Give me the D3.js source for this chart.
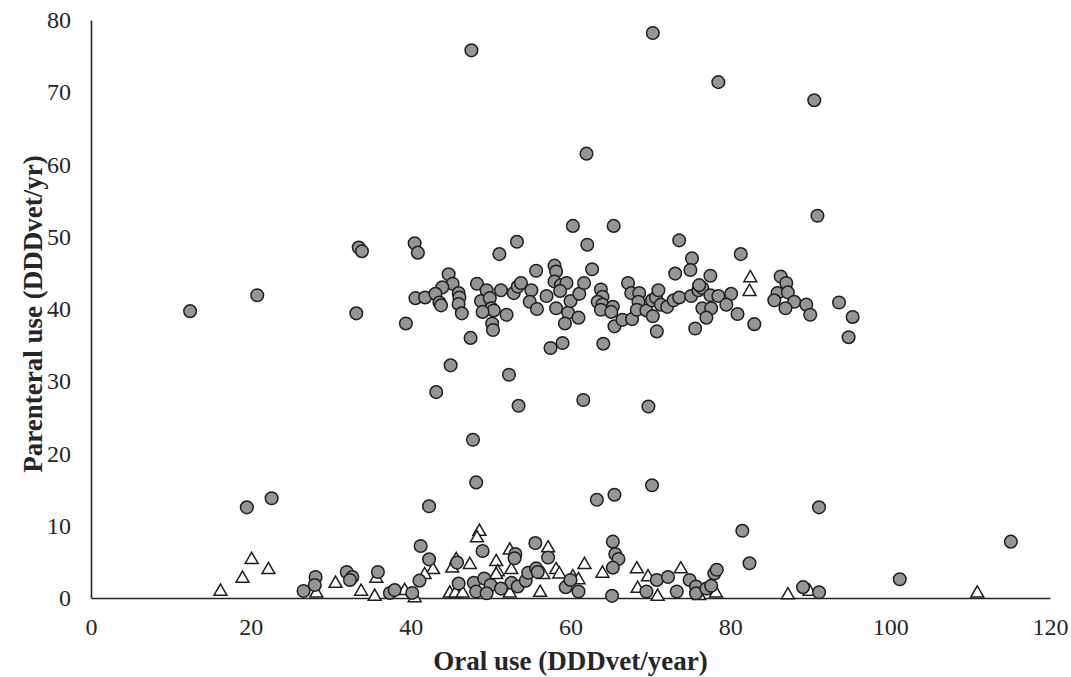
<!DOCTYPE html>
<html>
<head>
<script src="https://d3js.org/d3.v7.min.js"></script>
<style>
  body { margin: 0; background: #fff; }
  text { font-family: "Liberation Serif", "Times New Roman", serif; fill: #262626; }
</style>
</head>
<body>
<svg width="1071" height="677"></svg>
<script>
// DATA ==========================================================
// circles: [oral, parenteral]
const circleSeries = [
  [12.4,39.7],[20.8,41.9],[33.2,39.4],[33.5,48.5],[33.9,48.0],[39.4,38.0],[40.5,49.1],[40.9,47.8],
  [44.75,44.8],[45.25,43.5],[43.96,43.0],[40.6,41.5],[41.8,41.6],[43.1,42.1],[43.6,40.9],[43.8,40.5],
  [46.0,42.2],[46.1,41.6],[46.0,40.7],[46.4,39.4],[47.5,36.0],[45.0,32.2],[43.2,28.5],
  [53.3,49.3],[62.1,48.9],[73.6,49.5],[51.1,47.6],[81.3,47.6],[75.2,47.0],[75.0,45.4],[73.1,44.9],[77.5,44.6],
  [48.3,43.5],[49.5,42.6],[48.8,41.1],[49.9,41.5],[50.1,40.1],[50.4,39.8],[49.0,39.6],[50.2,38.0],[50.3,37.1],
  [52.0,39.2],[51.3,42.6],[52.9,42.2],[53.4,43.1],[53.8,43.6],[55.1,42.6],[54.9,41.0],[55.8,40.0],[55.7,45.3],
  [57.0,41.8],[58.0,46.0],[58.2,45.2],[58.0,43.8],[58.8,43.3],[59.5,43.6],[58.7,42.5],[58.2,40.1],[59.7,39.5],
  [59.3,38.0],[60.0,41.1],[61.1,42.1],[61.7,43.6],[62.7,45.5],[61.0,38.8],[59.0,35.3],[57.5,34.6],[63.8,42.7],
  [64.0,41.7],[63.4,41.0],[64.0,40.6],[63.8,39.9],[65.3,40.3],[65.1,39.6],[65.5,37.6],[64.1,35.2],[66.5,38.5],
  [67.7,38.6],[67.2,43.6],[67.6,42.2],[68.6,42.2],[68.5,41.0],[68.3,39.9],[69.5,39.8],[70.2,41.2],[70.7,41.6],
  [71.0,42.6],[71.3,40.6],[72.1,40.3],[70.3,39.0],[70.8,36.9],[72.9,41.2],[73.6,41.6],[75.1,41.8],[76.0,42.6],
  [76.5,42.9],[76.1,43.3],[77.5,41.9],[78.5,41.8],[80.1,42.1],[76.5,40.1],[77.6,40.1],[77.0,38.8],[79.5,40.6],
  [80.9,39.3],[75.6,37.3],[83.0,37.9],[52.3,30.9],[53.5,26.6],[61.6,27.4],[69.75,26.5],[47.8,21.9],
  [86.3,44.5],[87.0,43.6],[85.9,42.2],[87.2,42.3],[85.5,41.2],[88.0,41.0],[86.9,40.1],[89.5,40.6],[90.0,39.2],
  [93.6,40.9],[95.3,38.9],[94.8,36.1],
  [78.5,71.4],[90.5,68.9],[90.9,52.9],[47.6,75.8],[70.3,78.2],[62.0,61.5],[60.3,51.5],[65.4,51.5],
  [19.5,12.55],[22.6,13.8],[28.1,2.9],[28.0,1.8],[26.6,0.97],[32.0,3.6],[32.7,2.9],[32.4,2.5],[35.9,3.6],
  [37.4,0.7],[38.0,1.1],[48.2,16.0],[42.3,12.7],[63.3,13.6],[65.5,14.3],[41.25,7.2],[42.3,5.35],[41.1,2.4],
  [40.2,0.7],[45.8,4.9],[46.0,2.0],[49.0,6.5],[47.9,2.1],[48.2,0.9],[49.2,2.7],[50.0,1.8],[49.5,0.65],
  [53.1,6.1],[53.0,5.5],[52.6,2.1],[51.3,1.3],[53.4,1.6],[54.4,2.4],[54.7,3.5],[55.6,7.6],[55.7,4.1],[55.9,3.6],
  [57.2,5.6],[59.4,1.5],[60.0,2.5],[61.0,0.9],[65.3,7.8],[65.6,6.1],[66.0,5.4],[65.3,4.2],[65.2,0.3],
  [70.2,15.6],[81.5,9.3],[91.1,12.55],[82.4,4.8],[89.1,1.5],[91.1,0.8],[69.5,0.9],[70.8,2.5],[72.2,2.9],
  [73.3,0.9],[74.9,2.5],[75.7,1.6],[75.7,0.65],[77.0,1.3],[77.6,1.7],[78.0,3.4],[78.3,3.9],[101.2,2.6],[115.1,7.8]
];

// triangles: [oral, parenteral]
const triangleSeries = [
  [20.1,5.3],[18.96,2.7],[22.2,3.9],[16.2,0.9],[30.6,2.0],[33.8,0.9],[35.5,0.2],[35.7,2.7],[28.2,0.65],
  [48.6,9.2],[48.3,8.3],[45.7,5.3],[45.2,4.1],[47.4,4.6],[42.8,3.9],[41.75,3.2],[44.9,0.65],[45.6,0.65],
  [46.5,0.65],[40.5,0.0],[39.25,1.0],[50.7,5.0],[50.9,3.6],[50.7,3.2],[52.4,6.6],[52.6,3.9],[52.4,0.65],
  [57.2,6.9],[56.6,3.2],[56.2,0.75],[58.2,3.9],[58.6,3.3],[60.3,2.9],[61.0,2.5],[61.75,4.6],[64.0,3.4],
  [68.3,4.0],[69.7,2.9],[68.4,1.3],[70.9,0.2],[73.8,4.0],[76.1,0.3],[78.2,0.65],[89.9,0.9],[87.2,0.4],
  [110.9,0.65],[82.5,44.3],[82.4,42.4]
];

const xTicks = [0, 20, 40, 60, 80, 100, 120];
const yTicks = [0, 10, 20, 30, 40, 50, 60, 70, 80];
const xTitle = "Oral use (DDDvet/year)";
const yTitle = "Parenteral use (DDDvet/yr)";

// SCALES ========================================================
const svg = d3.select("svg");
const x = d3.scaleLinear().domain([0, 120]).range([91, 1050]);
const y = d3.scaleLinear().domain([0, 80]).range([598, 20]);

// AXES ==========================================================
const xAxis = svg.append("g")
  .attr("transform", `translate(0,${y(0)})`)
  .call(d3.axisBottom(x).tickValues(xTicks).tickSize(0).tickPadding(20));
const yAxis = svg.append("g")
  .attr("transform", `translate(${x(0)},0)`)
  .call(d3.axisLeft(y).tickValues(yTicks).tickSize(0).tickPadding(20));

[xAxis, yAxis].forEach(g => {
  g.select(".domain").attr("stroke", "#262626").attr("stroke-width", 1.6);
  g.selectAll("text")
    .attr("font-family", "Liberation Serif, serif")
    .attr("font-size", 24)
    .attr("fill", "#262626");
});

// MARKS =========================================================
svg.append("g")
  .selectAll("path")
  .data(triangleSeries)
  .join("path")
  .attr("d", d3.symbol(d3.symbolTriangle, 72))
  .attr("transform", d => `translate(${x(d[0])},${y(d[1])})`)
  .attr("fill", "#fff")
  .attr("stroke", "#1e1e1e")
  .attr("stroke-width", 1.5);

svg.append("g")
  .selectAll("circle")
  .data(circleSeries)
  .join("circle")
  .attr("cx", d => x(d[0]))
  .attr("cy", d => y(d[1]))
  .attr("r", 6.3)
  .attr("fill", "#959595")
  .attr("stroke", "#1e1e1e")
  .attr("stroke-width", 1.5);

// TITLES ========================================================
svg.append("text")
  .attr("x", (x(0) + x(120)) / 2)
  .attr("y", 670)
  .attr("text-anchor", "middle")
  .attr("font-size", 27)
  .attr("font-weight", "bold")
  .text(xTitle);

svg.append("text")
  .attr("transform", `translate(42,314) rotate(-90)`)
  .attr("text-anchor", "middle")
  .attr("font-size", 27)
  .attr("font-weight", "bold")
  .text(yTitle);
</script>
</body>
</html>
